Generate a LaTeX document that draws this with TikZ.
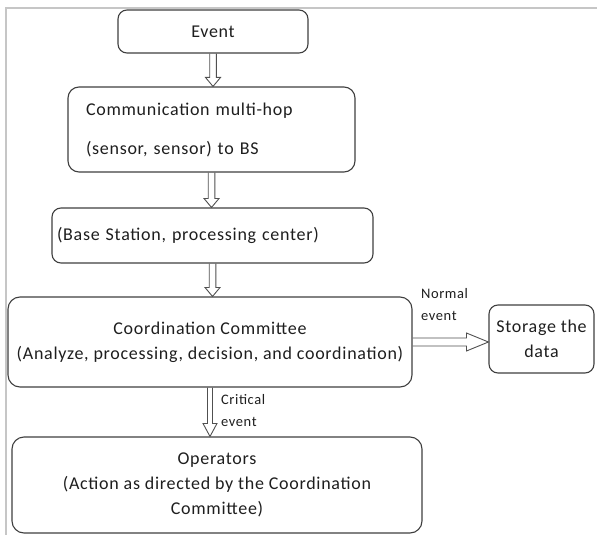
\documentclass[tikz,border=0pt]{standalone}
\usepackage{fontspec}
\setmainfont{Carlito}[LetterSpace=4]
\usetikzlibrary{calc}
\definecolor{boxline}{HTML}{3F3F3F}
\definecolor{arrowline}{HTML}{505050}
\definecolor{frameline}{HTML}{C6C6C6}
\definecolor{ink}{HTML}{1E1E1E}
\tikzset{
  box/.style={draw=boxline, text=ink, line width=1.1pt, rounded corners=9pt, inner sep=0pt,
    font=\fontsize{18}{25}\selectfont},
  note/.style={inner sep=0pt, anchor=north west, align=left, text=ink,
    font=\fontsize{14.5}{22}\selectfont},
  blk/.style={draw=arrowline, line width=0.9pt, line join=miter},
}
% hollow block arrow going down: from, to, half shaft, half head, head length
\newcommand\downblock[5]{%
  \draw[blk] let \p1=(#1.south), \p2=(#2.north) in
    (\x1-#3,\y1) -- (\x1-#3,\y2+#5) -- (\x1-#4,\y2+#5) -- (\x1,\y2)
    -- (\x1+#4,\y2+#5) -- (\x1+#3,\y2+#5) -- (\x1+#3,\y1);}
% hollow block arrow going right: from, to, half shaft, half head, head length
\newcommand\rightblock[5]{%
  \draw[blk] let \p1=(#1.east), \p2=(#2.west) in
    (\x1,\y1+#3) -- (\x2-#5,\y1+#3) -- (\x2-#5,\y1+#4) -- (\x2,\y1)
    -- (\x2-#5,\y1-#4) -- (\x2-#5,\y1-#3) -- (\x1,\y1-#3);}
\begin{document}
\begin{tikzpicture}[x=1pt,y=-1pt]
\useasboundingbox (0,0) rectangle (597,535);
% page frame
\draw[frameline, line width=1.5pt] (6,535) -- (6,8) -- (597,8);

\node[box, minimum width=190pt, minimum height=43pt] (ev) at (213,31.5) {Event};
\node[box, rounded corners=11pt, minimum width=287pt, minimum height=85pt,
  text width=251pt, align=left] (cm) at (211.5,129.5)
  {Communication multi-hop\\[14pt](sensor, sensor) to BS};
\node[box, minimum width=321pt, minimum height=55pt,
  text width=311pt, align=left] (bs) at (212.5,235.5)
  {(Base Station, processing center)};
\node[box, rounded corners=12pt, minimum width=404pt, minimum height=90pt,
  align=center] (cc) at (210,342)
  {Coordination Committee\\(Analyze, processing, decision, and coordination)};
\node[box, minimum width=105pt, minimum height=68pt, align=center] (st) at (541.5,339)
  {Storage the\\data};
\node[box, rounded corners=12pt, minimum width=410pt, minimum height=96pt,
  align=center] (op) at (217,485)
  {Operators\\(Action as directed by the Coordination\\Committee)};

\downblock{ev}{cm}{3.3pt}{7.5pt}{9pt}
\downblock{cm}{bs}{3.3pt}{7.5pt}{9pt}
\downblock{bs}{cc}{3.3pt}{7.5pt}{9pt}
\rightblock{cc}{st}{4pt}{9pt}{22pt}
\downblock{cc}{op}{2.5pt}{7pt}{13pt}

\node[note] (nl) at (421,288) {Normal\\event};
\node[note] (cl) at (221,394) {Critical\\event};
\end{tikzpicture}
\end{document}
